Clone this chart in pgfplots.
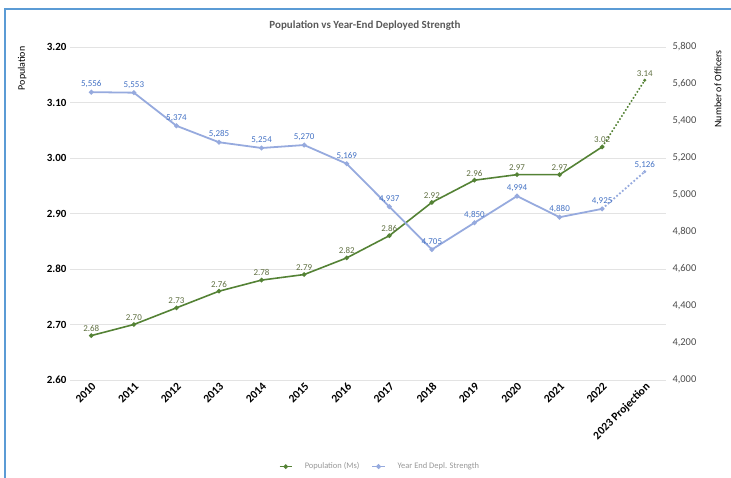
\documentclass[border=0pt]{standalone}
\usepackage{fontspec}
\setmainfont{Carlito}
\usepackage{pgfplots}
\pgfplotsset{compat=1.18}
\definecolor{popgreen}{RGB}{84,130,53}
\definecolor{poplabel}{RGB}{96,112,66}
\definecolor{strline}{RGB}{150,170,222}
\definecolor{strlabel}{RGB}{68,114,196}
\definecolor{framecol}{RGB}{91,155,213}
\newcommand{\fs}[1]{\fontsize{#1}{#1}\selectfont}
\begin{document}
\begin{tikzpicture}[x=1bp,y=1bp]
\useasboundingbox (0,0) rectangle (731,478);
\draw[framecol, line width=2bp] (5,0) -- (5,469) -- (731,469);

% left axis: population
\begin{axis}[
  at={(70bp,98bp)}, anchor=south west,
  scale only axis, width=596bp, height=333bp,
  clip=false,
  xmin=-0.5, xmax=13.5, ymin=2.6, ymax=3.2,
  xtick={0,1,2,3,4,5,6,7,8,9,10,11,12,13},
  xticklabels={2010,2011,2012,2013,2014,2015,2016,2017,2018,2019,2020,2021,2022,2023 Projection},
  x tick label style={rotate=45, anchor=north east, font=\bfseries\fs{11.5}, inner sep=1pt},
  ytick={2.6,2.7,2.8,2.9,3.0,3.1,3.2},
  yticklabel style={font=\bfseries\fs{11}, /pgf/number format/.cd, fixed, fixed zerofill, precision=2},
  /pgf/number format/assume math mode=true,
  axis line style={draw=none},
  major tick length=0pt,
  ymajorgrids, grid style={gray!22, line width=0.8pt},
  title={Population vs Year-End Deployed Strength},
  title style={at={(0.495,1.045)}, anchor=center, font=\bfseries\fs{11}, text=black!65},
]
\node[rotate=90, anchor=east, font=\fs{10}] at (rel axis cs:-0.08,1.012) {Population};
\addplot[popgreen, line width=1.6pt, mark=*, mark size=1.4pt,
  nodes near coords={\pgfmathprintnumber[fixed,fixed zerofill,precision=2]{\pgfplotspointmeta}},
  every node near coord/.append style={font=\fs{9}, text=poplabel, /pgf/number format/assume math mode=true}]
coordinates {(0,2.68) (1,2.70) (2,2.73) (3,2.76) (4,2.78) (5,2.79) (6,2.82) (7,2.86) (8,2.92) (9,2.96) (10,2.97) (11,2.97) (12,3.02)};
\addplot[popgreen, line width=1.6pt, dotted] coordinates {(12,3.02) (13,3.14)};
\addplot[popgreen, only marks, mark=*, mark size=1.4pt,
  nodes near coords={\pgfmathprintnumber[fixed,fixed zerofill,precision=2]{\pgfplotspointmeta}},
  every node near coord/.append style={font=\fs{9}, text=poplabel, /pgf/number format/assume math mode=true}]
coordinates {(13,3.14)};
\end{axis}

% right axis: year-end deployed strength
\begin{axis}[
  at={(70bp,98bp)}, anchor=south west,
  scale only axis, width=596bp, height=333bp,
  clip=false,
  xmin=-0.5, xmax=13.5, ymin=4000, ymax=5800,
  axis x line=none,
  axis y line*=right,
  axis line style={draw=none},
  major tick length=0pt,
  ytick={4000,4200,4400,4600,4800,5000,5200,5400,5600,5800},
  yticklabel style={font=\fs{10.5}, text=black!70, xshift=3pt, /pgf/number format/.cd, fixed, 1000 sep={,}},
  /pgf/number format/assume math mode=true,
  legend style={draw=none, at={(0.52,-0.26)}, anchor=center, legend columns=2,
    font=\fs{8.5}, text=black!40, column sep=10pt},
  legend image code/.code={\draw[mark repeat=2, mark phase=2] plot coordinates {(0cm,0cm) (0.22cm,0cm) (0.44cm,0cm)};},
]
\node[rotate=90, anchor=east, font=\fs{10}] at (rel axis cs:1.087,1.0) {Number of Officers};
\addlegendimage{popgreen, line width=1.6pt, mark=*, mark size=1.4pt}
\addlegendentry{Population (Ms)}
\addplot[strline, line width=1.8pt, mark=*, mark size=1.4pt,
  nodes near coords={\pgfmathprintnumber[fixed,1000 sep={,}]{\pgfplotspointmeta}},
  every node near coord/.append style={font=\fs{9}, text=strlabel, /pgf/number format/assume math mode=true}]
coordinates {(0,5556) (1,5553) (2,5374) (3,5285) (4,5254) (5,5270) (6,5169) (7,4937) (8,4705) (9,4850) (10,4994) (11,4880) (12,4925)};
\addlegendentry{Year End Depl. Strength}
\addplot[strline, line width=1.8pt, dotted, forget plot] coordinates {(12,4925) (13,5126)};
\addplot[strline, only marks, mark=*, mark size=1.4pt, forget plot,
  nodes near coords={\pgfmathprintnumber[fixed,1000 sep={,}]{\pgfplotspointmeta}},
  every node near coord/.append style={font=\fs{9}, text=strlabel, /pgf/number format/assume math mode=true}]
coordinates {(13,5126)};
\end{axis}
\end{tikzpicture}
\end{document}
